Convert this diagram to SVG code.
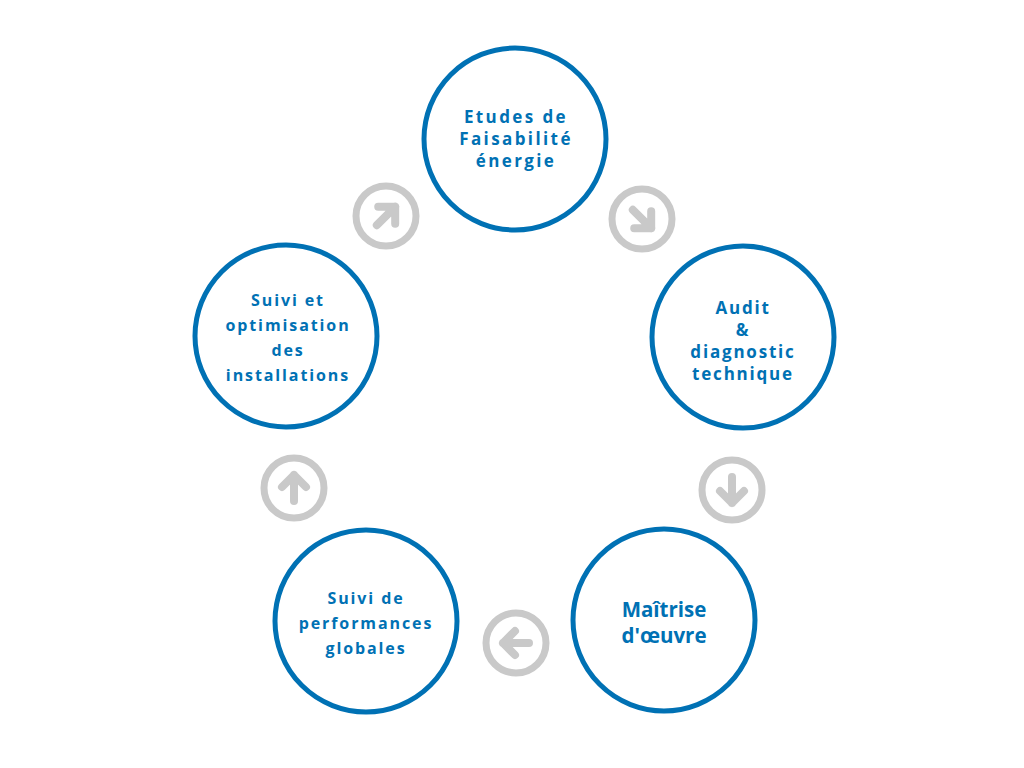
<svg xmlns="http://www.w3.org/2000/svg" width="1024" height="768" viewBox="0 0 1024 768">
<style>
.n{fill:#fff;stroke:#0071b4;stroke-width:5}
.t{font-family:"Open Sans",sans-serif;font-weight:bold;fill:#0071b4;text-anchor:middle}
</style>
<defs><g id="arr"><circle r="30" fill="none" stroke="#c9c9c9" stroke-width="7"/><path d="M-13 0H13M1-12L13 0L1 12" fill="none" stroke="#c9c9c9" stroke-width="8" stroke-linecap="round" stroke-linejoin="round"/></g></defs>
<rect width="1024" height="768" fill="#fff"/>
<g id="connectors">
<use href="#arr" transform="translate(386,216) rotate(-45)"/>
<use href="#arr" transform="translate(642,219) rotate(45)"/>
<use href="#arr" transform="translate(732,490) rotate(90)"/>
<use href="#arr" transform="translate(516,643) rotate(180)"/>
<use href="#arr" transform="translate(294,488) rotate(-90)"/>
</g>
<g id="n1"><circle class="n" cx="515" cy="139" r="91"/>
<text class="t" font-size="17" letter-spacing="2.4"><tspan x="516" y="123">Etudes de</tspan><tspan x="516" y="145">Faisabilité</tspan><tspan x="516" y="167">énergie</tspan></text></g>
<g id="n2"><circle class="n" cx="743" cy="337" r="91"/>
<text class="t" font-size="17" letter-spacing="1.8"><tspan x="743" y="314">Audit</tspan><tspan x="743" y="336">&amp;</tspan><tspan x="743" y="358">diagnostic</tspan><tspan x="743" y="380">technique</tspan></text></g>
<g id="n3"><circle class="n" cx="664" cy="620" r="91"/>
<text class="t" font-size="20.5"><tspan x="664" y="617">Maîtrise</tspan><tspan x="664" y="643">d'œuvre</tspan></text></g>
<g id="n4"><circle class="n" cx="366" cy="621" r="91"/>
<text class="t" font-size="16" letter-spacing="1.9"><tspan x="366" y="604">Suivi de</tspan><tspan x="366" y="629">performances</tspan><tspan x="366" y="654">globales</tspan></text></g>
<g id="n5"><circle class="n" cx="286" cy="336" r="91"/>
<text class="t" font-size="16" letter-spacing="1.9"><tspan x="288" y="306">Suivi et</tspan><tspan x="288" y="331">optimisation</tspan><tspan x="288" y="356">des</tspan><tspan x="288" y="381">installations</tspan></text></g>
</svg>
